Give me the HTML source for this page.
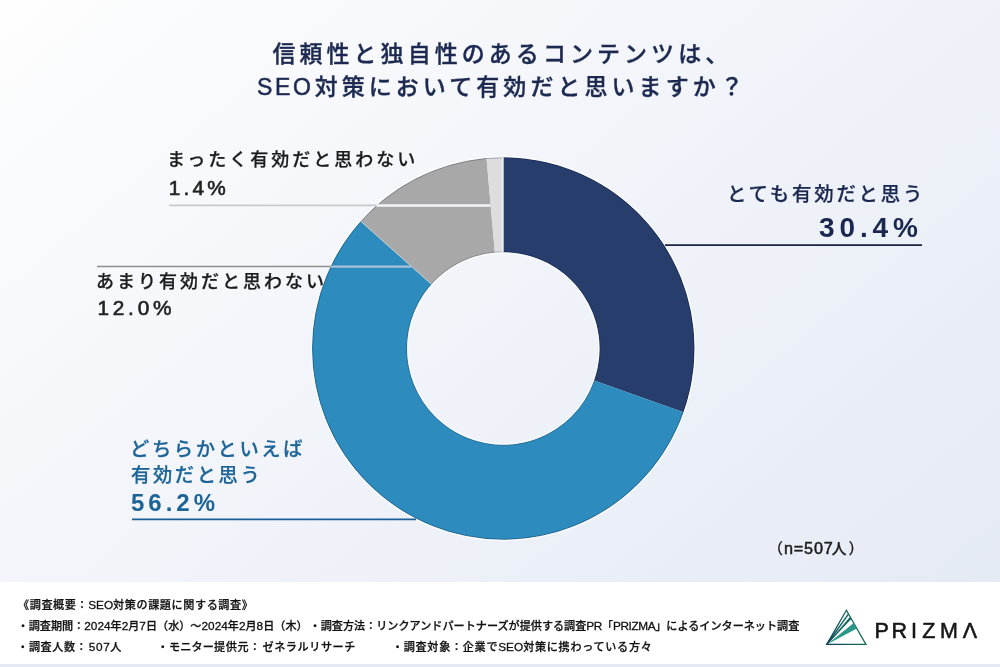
<!DOCTYPE html>
<html lang="ja">
<head>
<meta charset="utf-8">
<title>信頼性と独自性のあるコンテンツは、SEO対策において有効だと思いますか？</title>
<style>
html,body{margin:0;padding:0;}
body{width:1000px;height:667px;overflow:hidden;position:relative;
  font-family:"Liberation Sans","Noto Sans CJK JP",sans-serif;
  background:#eef1f8;}
#stage{position:absolute;left:0;top:0;width:1000px;height:667px;overflow:hidden;
  background:linear-gradient(140deg,#fefefe 0%,#f8f9fc 22%,#f0f3f9 50%,#e3e9f4 100%);}
.abs{position:absolute;white-space:nowrap;line-height:1;}
.title{color:#1c2950;font-weight:500;font-size:23px;letter-spacing:4.05px;-webkit-text-stroke:0.35px currentColor;}
#t1{left:272.4px;top:43px;}
#t2{left:257px;top:75.8px;}
.l{-webkit-text-stroke:0.5px currentColor;}
.lbl{font-size:18px;font-weight:500;letter-spacing:3px;color:#1c1c1c;-webkit-text-stroke:0.25px currentColor;}
.pct{font-size:20.8px;font-weight:500;letter-spacing:3.2px;color:#222;-webkit-text-stroke:0.6px currentColor;}
.navy{color:#1a2850;}
.blue{color:#1c6497;}
#footer{position:absolute;left:0;top:582.4px;width:1000px;height:81.5px;background:#fff;}
#strip{position:absolute;left:0;top:663.9px;width:1000px;height:3.1px;background:#e4e9f4;}
.ft{font-size:11.1px;font-weight:500;color:#111;letter-spacing:0.6px;-webkit-text-stroke:0.25px currentColor;}
.ft .d{font-size:11.8px;-webkit-text-stroke:0.3px currentColor;}
.ft .u{font-size:11.8px;letter-spacing:0;-webkit-text-stroke:0.3px currentColor;}
.ft.t .u{letter-spacing:-0.4px;}
.ft.t{letter-spacing:0.015px;}
svg{position:absolute;left:0;top:0;}
</style>
</head>
<body>
<div id="stage">
  <div class="abs title" id="t1">信頼性と独自性のあるコンテンツは、</div>
  <div class="abs title" id="t2"><span class="l" style="letter-spacing:2.6px;margin-right:1.3px;">SEO</span>対策において有効だと思いますか<span style="margin-left:0.6px">？</span></div>

  <svg width="1000" height="667" viewBox="0 0 1000 667">
    <path d="M503.30 157.30A191.2 191.2 0 0 1 683.60 412.14L594.11 380.55A96.3 96.3 0 0 0 503.30 252.20Z" fill="#273d6b"/>
    <path d="M683.60 412.14A191.2 191.2 0 1 1 360.68 221.16L431.47 284.36A96.3 96.3 0 1 0 594.11 380.55Z" fill="#2d8bbd"/>
    <path d="M360.68 221.16A191.2 191.2 0 0 1 486.50 158.04L494.84 252.57A96.3 96.3 0 0 0 431.47 284.36Z" fill="#a8a8a8"/>
    <path d="M486.50 158.04A191.2 191.2 0 0 1 503.30 157.30L503.30 252.20A96.3 96.3 0 0 0 494.84 252.57Z" fill="#dddddd"/>
    <!-- sharpening halo -->
    <circle cx="503.3" cy="348.5" r="191.9" fill="none" stroke="#ffffff" stroke-opacity="0.85" stroke-width="1.2"/>
    <circle cx="503.3" cy="348.5" r="190.8" fill="none" stroke="#000820" stroke-opacity="0.3" stroke-width="0.9"/>
    <circle cx="503.3" cy="348.5" r="95.6" fill="none" stroke="#ffffff" stroke-opacity="0.8" stroke-width="1.2"/>
    <circle cx="503.3" cy="348.5" r="96.7" fill="none" stroke="#000820" stroke-opacity="0.25" stroke-width="0.9"/>
    <!-- separators -->
    <line x1="502.6" y1="157" x2="502.6" y2="252.4" stroke="#eef0f4" stroke-width="1.6"/>
    <line x1="360.68" y1="221.16" x2="431.47" y2="284.36" stroke="#c9d3dc" stroke-width="0.8"/>
    <!-- leader lines -->
    <line x1="169" y1="205.4" x2="377" y2="205.4" stroke="#c9c9cc" stroke-width="1.6"/>
    <line x1="376.5" y1="205.5" x2="490.5" y2="205.5" stroke="#f5f5f7" stroke-width="2.4"/>
    <line x1="97" y1="266.5" x2="331" y2="266.5" stroke="#8e8e8e" stroke-width="1.5"/>
    <line x1="330.5" y1="266.6" x2="411.5" y2="266.6" stroke="#a9bfd6" stroke-width="2.1"/>
    <line x1="665" y1="245.1" x2="922" y2="245.1" stroke="#1a2340" stroke-width="1.8"/>
    <line x1="132" y1="519.3" x2="416" y2="519.3" stroke="#1c5f96" stroke-width="1.8"/>
  </svg>

  <div class="abs lbl" style="left:167px;top:150.5px;">まったく有効だと思わない</div>
  <div class="abs pct" style="left:168.8px;top:178.4px;">1.4%</div>

  <div class="abs lbl" style="left:96px;top:273.3px;">あまり有効だと思わない</div>
  <div class="abs pct" style="left:97.4px;top:298.3px;letter-spacing:3.8px;">12.0%</div>

  <div class="abs lbl navy" style="left:727px;top:184.5px;font-size:19.4px;letter-spacing:2.8px;">とても有効だと思う</div>
  <div class="abs pct navy" style="left:819px;top:214px;font-size:28px;font-weight:700;letter-spacing:4.9px;-webkit-text-stroke:0;">30.4%</div>

  <div class="abs lbl blue" style="left:130px;top:440px;font-size:19.3px;letter-spacing:2.6px;">どちらかといえば</div>
  <div class="abs lbl blue" style="left:131px;top:465.5px;font-size:19.3px;letter-spacing:2.6px;">有効だと思う</div>
  <div class="abs pct blue" style="left:131px;top:491px;font-size:24px;font-weight:700;letter-spacing:4px;-webkit-text-stroke:0;">56.2%</div>

  <div class="abs" style="left:768.1px;top:540px;font-size:15px;font-weight:500;color:#1c1c1c;-webkit-text-stroke:0.2px currentColor;">（<span class="l" style="font-size:16.2px;letter-spacing:0.85px;margin-left:0.8px;margin-right:-2.2px;">n=507</span>人<span style="margin-left:2px">）</span></div>

  <div id="footer"></div>
  <div id="strip"></div>

  <div class="abs ft" id="f1" style="left:18px;top:600.1px;">《調査概要：<span class="u">SEO</span>対策の課題に関する調査》</div>
  <div class="abs ft t" id="f2a" style="left:17.6px;top:621.1px;">・調査期間：<span class="d">2024</span>年<span class="d">2</span>月<span class="d">7</span>日（水）～<span class="d">2024</span>年<span class="d">2</span>月<span class="d">8</span>日（木）</div>
  <div class="abs ft t" id="f2b" style="left:309.6px;top:621.1px;">・調査方法：リンクアンドパートナーズが提供する調査<span class="u">PR</span>「<span class="u">PRIZMA</span>」によるインターネット調査</div>
  <div class="abs ft" id="f3a" style="left:17.2px;top:642px;">・調査人数：<span class="d" style="margin-left:1.5px">507</span>人</div>
  <div class="abs ft" id="f3b" style="left:157.2px;top:642px;">・<span style="letter-spacing:0.2px">モニター</span>提供元：<span style="margin-left:1.6px">ゼネラルリサーチ</span></div>
  <div class="abs ft" id="f3c" style="left:391.9px;top:642px;letter-spacing:0.72px;">・調査対象：企業で<span class="u">SEO</span>対策に携わっている方々</div>

  <svg width="1000" height="667" viewBox="0 0 1000 667">
    <defs>
      <linearGradient id="lg" gradientUnits="userSpaceOnUse" x1="827" y1="644" x2="866" y2="625">
        <stop offset="0" stop-color="#0d3f5c"/>
        <stop offset="1" stop-color="#16775a"/>
      </linearGradient>
    </defs>
    <g fill="none" stroke="url(#lg)" stroke-width="1.3" stroke-linejoin="miter">
      <path d="M846.4 610.3L826.8 644.4L865.9 644.4Z"/>
      <path d="M826.8 644.4L848.5 614"/>
      <path d="M826.8 644.4L850.7 617.8"/>
    </g>
    <path d="M826.8 644.4L850.1 616.8L851.3 618.9Z" fill="#17695f"/>
    <path d="M826.8 644.4L853.7 623.1L856.8 628.5Z" fill="#2a9888"/>
    <text y="637.7" font-family="'Liberation Sans',sans-serif" font-size="21.5" fill="#161616" stroke="#161616" stroke-width="0.55" x="874.4 891.4 911 922.2 940 962.8">PRIZMΛ</text>
  </svg>
</div>
</body>
</html>
